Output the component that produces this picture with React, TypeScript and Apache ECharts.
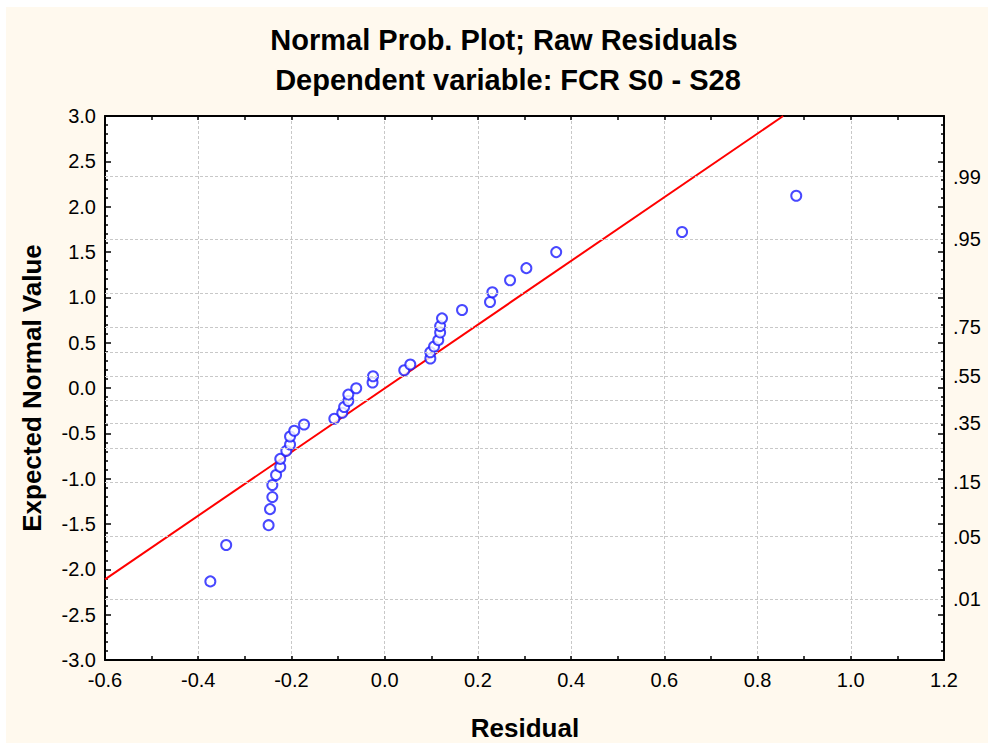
import React, { useEffect, useRef } from "react";
import * as echarts from "echarts";

// Raw residuals and their expected normal scores
const residuals = [
  -0.374, -0.34, -0.249, -0.246, -0.241, -0.241, -0.233, -0.224, -0.224, -0.211,
  -0.203, -0.203, -0.194, -0.173, -0.108, -0.091, -0.087, -0.078, -0.078, -0.061,
  -0.026, -0.025, 0.042, 0.055, 0.098, 0.098, 0.106, 0.115, 0.119, 0.119,
  0.123, 0.166, 0.226, 0.231, 0.269, 0.304, 0.368, 0.638, 0.883,
];
const expectedNormal = [
  -2.133, -1.731, -1.513, -1.336, -1.203, -1.07, -0.959, -0.87, -0.782, -0.693,
  -0.623, -0.535, -0.472, -0.402, -0.339, -0.273, -0.21, -0.144, -0.073, -0.003,
  0.06, 0.13, 0.196, 0.259, 0.326, 0.395, 0.458, 0.528, 0.613, 0.683,
  0.768, 0.86, 0.949, 1.056, 1.189, 1.322, 1.499, 1.721, 2.12,
];

// Reference line end points (residual, expected normal value)
const refLineX = [-0.6, 0.855];
const refLineY = [-2.111, 3.0];

// Cumulative probabilities marked on the right-hand scale
const probGridLevels = [0.01, 0.05, 0.15, 0.25, 0.35, 0.45, 0.55, 0.65, 0.75, 0.85, 0.95, 0.99];
const probLabelLevels = [0.01, 0.05, 0.15, 0.35, 0.55, 0.75, 0.95, 0.99];
const probLabelTexts = [".01", ".05", ".15", ".35", ".55", ".75", ".95", ".99"];

const FONT = 'Arial, "Liberation Sans", sans-serif';

// Inverse of the standard normal CDF (Acklam's rational approximation)
function normInv(p: number): number {
  const a = [-3.969683028665376e1, 2.209460984245205e2, -2.759285104469687e2, 1.38357751867269e2, -3.066479806614716e1, 2.506628277459239];
  const b = [-5.447609879822406e1, 1.615858368580409e2, -1.556989798598866e2, 6.680131188771972e1, -1.328068155288572e1];
  const c = [-7.784894002430293e-3, -3.223964580411365e-1, -2.400758277161838, -2.549732539343734, 4.374664141464968, 2.938163982698783];
  const d = [7.784695709101165e-3, 3.224671290700398e-1, 2.445134137142996, 3.754408661907416];
  const plow = 0.02425;
  if (p < plow) {
    const q = Math.sqrt(-2 * Math.log(p));
    return (((((c[0] * q + c[1]) * q + c[2]) * q + c[3]) * q + c[4]) * q + c[5]) /
      ((((d[0] * q + d[1]) * q + d[2]) * q + d[3]) * q + 1);
  }
  if (p <= 1 - plow) {
    const q = p - 0.5;
    const r = q * q;
    return ((((((a[0] * r + a[1]) * r + a[2]) * r + a[3]) * r + a[4]) * r + a[5]) * q) /
      (((((b[0] * r + b[1]) * r + b[2]) * r + b[3]) * r + b[4]) * r + 1);
  }
  const q = Math.sqrt(-2 * Math.log(1 - p));
  return -(((((c[0] * q + c[1]) * q + c[2]) * q + c[3]) * q + c[4]) * q + c[5]) /
    ((((d[0] * q + d[1]) * q + d[2]) * q + d[3]) * q + 1);
}

export default function App() {
  const ref = useRef<HTMLDivElement>(null);

  useEffect(() => {
    if (!ref.current) return;
    const chart = echarts.init(ref.current, undefined, { renderer: "svg" });

    const axisLine = { show: true, onZero: false, lineStyle: { color: "#000", width: 2 } };
    const fmt1 = (v: number) => v.toFixed(1);

    const xCommon = {
      type: "value" as const,
      min: -0.6,
      max: 1.2,
      interval: 0.2,
      axisLine,
      axisTick: { show: true, inside: true, length: 4, lineStyle: { color: "#000", width: 1.5 } },
      minorTick: { show: true, splitNumber: 2, length: 4, lineStyle: { color: "#000", width: 1.5 } },
    };
    const yCommon = {
      type: "value" as const,
      min: -3,
      max: 3,
      interval: 0.5,
      axisLine,
      axisTick: { show: true, inside: true, length: 6, lineStyle: { color: "#000", width: 1.5 } },
      minorTick: { show: true, splitNumber: 5, length: 3, lineStyle: { color: "#000", width: 1.5 } },
      splitLine: { show: false },
    };

    const gridLines = probGridLevels.map((p) => {
      const idx = probLabelLevels.indexOf(p);
      return {
        yAxis: normInv(p),
        label: {
          show: idx >= 0,
          formatter: idx >= 0 ? probLabelTexts[idx] : "",
          position: "end",
          distance: 9,
          color: "#000",
          fontSize: 20,
          fontFamily: FONT,
        },
      };
    });

    chart.setOption({
      animation: false,
      backgroundColor: "#FFF9EE",
      grid: {
        left: 99,
        right: 44,
        top: 109,
        bottom: 83,
        show: true,
        backgroundColor: "#FFFFFF",
        borderWidth: 0,
      },
      graphic: [
        {
          type: "text",
          x: 498,
          y: 33,
          style: {
            text: "Normal Prob. Plot; Raw Residuals",
            font: `bold 29px ${FONT}`,
            fill: "#000",
            align: "center",
            verticalAlign: "middle",
          },
        },
        {
          type: "text",
          x: 502,
          y: 73,
          style: {
            text: "Dependent variable: FCR S0 - S28",
            font: `bold 29px ${FONT}`,
            fill: "#000",
            align: "center",
            verticalAlign: "middle",
          },
        },
        {
          type: "text",
          x: 519,
          y: 721,
          style: {
            text: "Residual",
            font: `bold 26px ${FONT}`,
            fill: "#000",
            align: "center",
            verticalAlign: "middle",
          },
        },
        {
          type: "text",
          x: 26,
          y: 381,
          rotation: Math.PI / 2,
          style: {
            text: "Expected Normal Value",
            font: `bold 26px ${FONT}`,
            fill: "#000",
            align: "center",
            verticalAlign: "middle",
          },
        },
      ],
      xAxis: [
        {
          ...xCommon,
          position: "bottom",
          axisLabel: { show: true, fontSize: 20, fontFamily: FONT, color: "#000", margin: 10, formatter: fmt1 },
          splitLine: { show: true, lineStyle: { color: "#C8C8C8", width: 1, type: [3, 2] } },
        },
        {
          ...xCommon,
          position: "top",
          axisLabel: { show: false },
          splitLine: { show: false },
        },
      ],
      yAxis: [
        {
          ...yCommon,
          position: "left",
          axisLabel: { show: true, fontSize: 20, fontFamily: FONT, color: "#000", margin: 9, formatter: fmt1 },
        },
        {
          ...yCommon,
          position: "right",
          axisLabel: { show: false },
        },
      ],
      series: [
        {
          // horizontal probability grid and right-hand probability labels
          type: "line",
          data: [],
          z: 1,
          silent: true,
          markLine: {
            silent: true,
            symbol: ["none", "none"],
            animation: false,
            lineStyle: { color: "#C8C8C8", width: 1, type: [3, 2] },
            data: gridLines,
          },
        },
        {
          type: "line",
          data: refLineX.map((x, i) => [x, refLineY[i]]),
          showSymbol: false,
          symbol: "none",
          lineStyle: { color: "#FF0000", width: 2 },
          z: 3,
          silent: true,
        },
        {
          type: "scatter",
          data: residuals.map((x, i) => [x, expectedNormal[i]]),
          symbol: "emptyCircle",
          symbolSize: 10,
          itemStyle: { color: "#1A1AFF", borderWidth: 1.2 },
          z: 4,
        },
      ],
    });

    return () => chart.dispose();
  }, []);

  return (
    <div style={{ position: "absolute", left: 0, top: 0, width: 988, height: 743, background: "#FFFFFF" }}>
      <div ref={ref} style={{ position: "absolute", left: 6, top: 7, width: 982, height: 736 }} />
    </div>
  );
}
